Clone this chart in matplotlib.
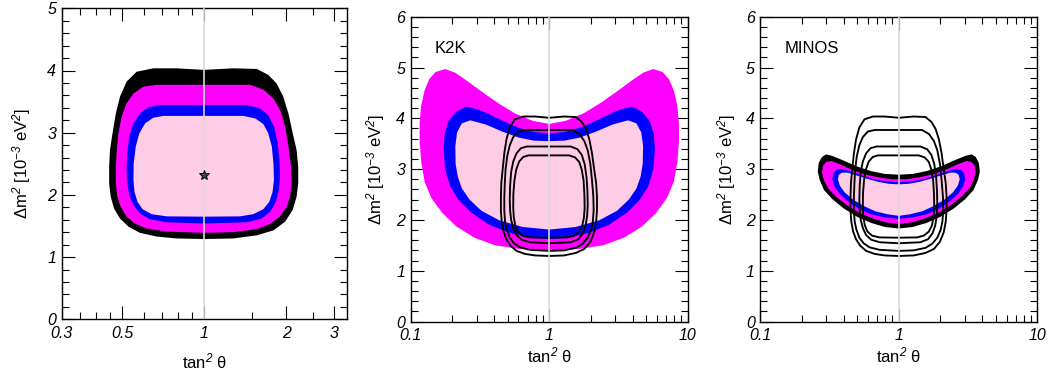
import numpy as np
import matplotlib
matplotlib.use("Agg")
import matplotlib.pyplot as plt
from matplotlib.ticker import FixedLocator, FixedFormatter, MultipleLocator, NullFormatter

plt.rcParams['font.family'] = ['Liberation Sans', 'DejaVu Sans']
plt.rcParams['font.style'] = 'italic'
plt.rcParams['mathtext.fontset'] = 'custom'
plt.rcParams['mathtext.rm'] = 'Liberation Sans'
plt.rcParams['mathtext.it'] = 'Liberation Sans:italic'
plt.rcParams['mathtext.bf'] = 'Liberation Sans:bold'

# ---------------- data: contour boundaries (tan^2 theta, dm^2 [1e-3 eV^2]) ----------------
# Atmospheric (SK) allowed regions -- outermost (black) to innermost (pink)
atm_black_x = [1.0, 1.279, 1.560, 1.718, 1.845, 1.950, 2.037, 2.113, 2.183, 2.213, 2.213, 2.183,
               2.113, 1.982, 1.795, 1.560, 1.279, 1.0, 0.792, 0.670, 0.581, 0.527, 0.491, 0.467,
               0.454, 0.448, 0.448, 0.451, 0.461, 0.474, 0.491, 0.519, 0.565, 0.650, 0.792]
atm_black_y = [4.01, 4.035, 4.025, 3.93, 3.79, 3.58, 3.31, 2.99, 2.72, 2.45, 2.19, 1.97,
               1.76, 1.57, 1.43, 1.35, 1.30, 1.29, 1.30, 1.33, 1.39, 1.49, 1.62, 1.78,
               1.97, 2.18, 2.45, 2.72, 2.99, 3.31, 3.58, 3.82, 3.98, 4.035, 4.035]
atm_magenta_x = [1.0, 1.472, 1.652, 1.795, 1.897, 1.982, 2.037, 2.084, 2.094, 2.065, 2.009, 1.897,
                 1.742, 1.560, 1.279, 1.0, 0.728, 0.615, 0.557, 0.519, 0.494, 0.480, 0.474, 0.474,
                 0.478, 0.484, 0.498, 0.519, 0.550, 0.598, 0.670]
atm_magenta_y = [3.77, 3.77, 3.69, 3.55, 3.37, 3.10, 2.78, 2.45, 2.19, 1.97, 1.81, 1.65,
                 1.53, 1.45, 1.40, 1.39, 1.41, 1.46, 1.54, 1.65, 1.81, 1.97, 2.19, 2.45,
                 2.72, 2.99, 3.26, 3.47, 3.63, 3.74, 3.77]
atm_blue_x = [1.0, 1.432, 1.603, 1.718, 1.803, 1.862, 1.888, 1.897, 1.879, 1.832, 1.754, 1.626,
              1.432, 1.0, 0.728, 0.632, 0.581, 0.550, 0.531, 0.522, 0.519, 0.522, 0.531, 0.550,
              0.581, 0.624, 0.689]
atm_blue_y = [3.445, 3.445, 3.39, 3.28, 3.10, 2.83, 2.56, 2.29, 2.08, 1.89, 1.74, 1.62,
              1.56, 1.54, 1.56, 1.61, 1.70, 1.84, 2.00, 2.19, 2.40, 2.67, 2.94, 3.15,
              3.31, 3.41, 3.445]
atm_pink_x = [1.0, 1.393, 1.538, 1.648, 1.718, 1.770, 1.795, 1.803, 1.782, 1.734, 1.648, 1.514,
              1.352, 1.0, 0.728, 0.641, 0.594, 0.569, 0.555, 0.550, 0.551, 0.561, 0.578, 0.607,
              0.650, 0.708]
atm_pink_y = [3.27, 3.27, 3.23, 3.14, 2.99, 2.78, 2.51, 2.24, 2.05, 1.89, 1.77, 1.69,
              1.655, 1.65, 1.655, 1.69, 1.77, 1.89, 2.05, 2.24, 2.51, 2.78, 2.99, 3.15,
              3.24, 3.27]
best_fit_x = [1.0]
best_fit_y = [2.32]

# K2K allowed regions
k2k_magenta_x = [0.177, 0.209, 0.245, 0.324, 0.427, 0.562, 0.759, 1.0, 1.318, 1.778, 2.344, 3.090,
                 4.074, 4.786, 5.649, 6.607, 7.328, 7.943, 8.414, 8.650, 8.650, 8.433, 7.943, 7.079,
                 5.888, 4.677, 3.467, 2.455, 1.660, 1.0, 0.602, 0.407, 0.288, 0.214, 0.170, 0.141,
                 0.126, 0.119, 0.116, 0.116, 0.119, 0.126, 0.136, 0.151]
k2k_magenta_y = [4.97, 4.90, 4.77, 4.53, 4.30, 4.10, 3.95, 3.89, 3.95, 4.10, 4.30, 4.53,
                 4.77, 4.90, 4.97, 4.91, 4.77, 4.55, 4.25, 3.90, 3.54, 3.15, 2.75, 2.43,
                 2.13, 1.87, 1.65, 1.50, 1.43, 1.40, 1.43, 1.50, 1.65, 1.87, 2.13, 2.43,
                 2.75, 3.15, 3.54, 3.90, 4.25, 4.55, 4.77, 4.91]
k2k_blue_x = [0.251, 0.302, 0.355, 0.447, 0.589, 0.776, 1.0, 1.288, 1.698, 2.239, 2.818, 3.311,
              3.981, 4.677, 5.309, 5.689, 5.794, 5.649, 5.188, 4.519, 3.673, 2.692, 1.905, 1.380,
              1.0, 0.725, 0.525, 0.371, 0.272, 0.221, 0.193, 0.177, 0.173, 0.176, 0.188, 0.214]
k2k_blue_y = [4.23, 4.18, 4.10, 3.97, 3.82, 3.73, 3.70, 3.73, 3.82, 3.97, 4.10, 4.18,
              4.23, 4.13, 3.95, 3.70, 3.40, 3.00, 2.66, 2.40, 2.15, 1.90, 1.74, 1.65,
              1.62, 1.65, 1.74, 1.90, 2.15, 2.40, 2.66, 3.00, 3.40, 3.70, 3.95, 4.13]
k2k_pink_x = [0.269, 0.347, 0.457, 0.603, 0.776, 1.0, 1.288, 1.660, 2.188, 2.884, 3.715, 4.266,
              4.624, 4.764, 4.732, 4.571, 4.266, 3.758, 3.090, 2.291, 1.549, 1.0, 0.646, 0.437,
              0.324, 0.266, 0.234, 0.219, 0.211, 0.210, 0.216, 0.234]
k2k_pink_y = [3.96, 3.88, 3.74, 3.62, 3.56, 3.55, 3.56, 3.62, 3.74, 3.88, 3.96, 3.90,
              3.72, 3.45, 3.10, 2.85, 2.62, 2.40, 2.18, 1.99, 1.86, 1.81, 1.86, 1.99,
              2.18, 2.40, 2.62, 2.85, 3.10, 3.45, 3.72, 3.90]

# MINOS allowed regions
minos_black_x = [0.260, 0.264, 0.279, 0.299, 0.331, 0.398, 0.501, 0.631, 0.794, 1.0, 1.259, 1.585,
                 1.995, 2.512, 3.020, 3.350, 3.589, 3.784, 3.846, 3.733, 3.467, 3.020, 2.512, 1.995,
                 1.585, 1.259, 1.0, 0.794, 0.631, 0.501, 0.398, 0.331, 0.288, 0.268]
minos_black_y = [2.95, 3.12, 3.24, 3.29, 3.26, 3.17, 3.05, 2.96, 2.905, 2.89, 2.905, 2.96,
                 3.05, 3.17, 3.26, 3.29, 3.24, 3.12, 2.95, 2.79, 2.59, 2.41, 2.23, 2.06,
                 1.94, 1.86, 1.83, 1.86, 1.94, 2.06, 2.23, 2.41, 2.59, 2.79]
minos_magenta_x = [0.279, 0.283, 0.299, 0.324, 0.372, 0.447, 0.562, 0.708, 0.891, 1.0, 1.122, 1.413,
                   1.778, 2.239, 2.692, 3.090, 3.350, 3.532, 3.589, 3.467, 3.236, 2.818, 2.344, 1.905,
                   1.514, 1.230, 1.0, 0.813, 0.661, 0.525, 0.427, 0.355, 0.309, 0.288]
minos_magenta_y = [2.93, 3.06, 3.14, 3.16, 3.10, 3.00, 2.90, 2.84, 2.80, 2.80, 2.80, 2.84,
                   2.90, 3.00, 3.10, 3.16, 3.14, 3.06, 2.93, 2.78, 2.62, 2.45, 2.28, 2.13,
                   2.02, 1.95, 1.92, 1.95, 2.02, 2.13, 2.28, 2.45, 2.62, 2.78]
minos_blue_x = [0.331, 0.339, 0.359, 0.389, 0.447, 0.537, 0.661, 0.813, 1.0, 1.230, 1.514, 1.862,
                2.239, 2.570, 2.786, 2.951, 3.020, 2.917, 2.692, 2.344, 1.950, 1.585, 1.259, 1.0,
                0.794, 0.631, 0.513, 0.427, 0.372, 0.343]
minos_blue_y = [2.80, 2.93, 2.99, 3.00, 2.96, 2.88, 2.80, 2.76, 2.74, 2.76, 2.80, 2.88,
                2.96, 3.00, 2.99, 2.93, 2.80, 2.66, 2.52, 2.37, 2.22, 2.11, 2.05, 2.02,
                2.05, 2.11, 2.22, 2.37, 2.52, 2.66]
minos_pink_x = [0.363, 0.370, 0.389, 0.427, 0.490, 0.589, 0.708, 0.851, 1.0, 1.175, 1.413, 1.698,
                2.042, 2.344, 2.570, 2.704, 2.754, 2.661, 2.455, 2.138, 1.778, 1.479, 1.202, 1.0,
                0.832, 0.676, 0.562, 0.468, 0.407, 0.376]
minos_pink_y = [2.80, 2.89, 2.93, 2.93, 2.88, 2.81, 2.75, 2.71, 2.70, 2.71, 2.75, 2.81,
                2.88, 2.93, 2.93, 2.89, 2.80, 2.67, 2.54, 2.40, 2.27, 2.17, 2.11, 2.08,
                2.11, 2.17, 2.27, 2.40, 2.54, 2.67]

panel_labels = ["K2K", "MINOS"]
p1_xticks = [0.3, 0.5, 1, 2, 3]
p1_xticklabels = ["0.3", "0.5", "1", "2", "3"]
p1_xminor = [0.35, 0.4, 0.45, 0.6, 0.7, 0.8, 0.9, 1.5, 2.5]
p23_xticks = [0.1, 1, 10]
p23_xticklabels = ["0.1", "1", "10"]
p23_xminor = [0.2, 0.3, 0.4, 0.5, 0.6, 0.7, 0.8, 0.9, 2, 3, 4, 5, 6, 7, 8, 9]

# ---------------- styles ----------------
C_BLACK = "#000000"
C_MAG = "#ff00ff"
C_BLUE = "#0000ff"
C_PINK = "#ffcce5"
C_GRAY = "#d9d9d9"

W, H = 1052, 378
fig = plt.figure(figsize=(W / 100, H / 100), dpi=100)
ax1 = fig.add_axes([61.7 / W, (H - 319.3) / H, 285 / W, 311 / H])
ax2 = fig.add_axes([410.7 / W, (H - 321.5) / H, 277 / W, 304.8 / H])
ax3 = fig.add_axes([760.3 / W, (H - 321.5) / H, 277 / W, 304.8 / H])


def fill_set(ax, regions):
    for i, (xs, ys, c) in enumerate(regions):
        ax.fill(xs, ys, color=c, lw=0, zorder=2 + i * 0.1)


def line_set(ax, regions):
    for xs, ys in regions:
        ax.fill(xs, ys, fill=False, edgecolor="black", lw=1.35, zorder=4)


atm_regions = [(atm_black_x, atm_black_y), (atm_magenta_x, atm_magenta_y),
               (atm_blue_x, atm_blue_y), (atm_pink_x, atm_pink_y)]

fill_set(ax1, [(atm_black_x, atm_black_y, C_BLACK), (atm_magenta_x, atm_magenta_y, C_MAG),
               (atm_blue_x, atm_blue_y, C_BLUE), (atm_pink_x, atm_pink_y, C_PINK)])
ax1.plot(best_fit_x, best_fit_y, marker="*", ms=7, mfc="#444444", mec="black", mew=0.7,
         ls="none", zorder=6)

fill_set(ax2, [(k2k_magenta_x, k2k_magenta_y, C_MAG), (k2k_blue_x, k2k_blue_y, C_BLUE),
               (k2k_pink_x, k2k_pink_y, C_PINK)])
line_set(ax2, atm_regions)

fill_set(ax3, [(minos_black_x, minos_black_y, C_BLACK), (minos_magenta_x, minos_magenta_y, C_MAG),
               (minos_blue_x, minos_blue_y, C_BLUE), (minos_pink_x, minos_pink_y, C_PINK)])
line_set(ax3, atm_regions)

ylabel = r"Δm$^{2}$ [10$^{-3}$ eV$^{2}$]"
xlabel = r"tan$^{2}$ θ"

for ax, xlim, ylim, xt, xtl, xmin in [
        (ax1, (0.3, 10 / 3), (0, 5), p1_xticks, p1_xticklabels, p1_xminor),
        (ax2, (0.1, 10), (0, 6), p23_xticks, p23_xticklabels, p23_xminor),
        (ax3, (0.1, 10), (0, 6), p23_xticks, p23_xticklabels, p23_xminor)]:
    ax.set_xscale("log")
    ax.set_xlim(*xlim)
    ax.set_ylim(*ylim)
    ax.axvline(1, color=C_GRAY, lw=1.2, zorder=5)
    ax.xaxis.set_major_locator(FixedLocator(xt))
    ax.xaxis.set_major_formatter(FixedFormatter(xtl))
    ax.xaxis.set_minor_locator(FixedLocator(xmin))
    ax.xaxis.set_minor_formatter(NullFormatter())
    ax.yaxis.set_major_locator(MultipleLocator(1))
    ax.yaxis.set_minor_locator(MultipleLocator(0.2))
    ax.tick_params(which="both", direction="in", top=True, right=True, width=0.8,
                   color="black", labelsize=11.5)
    ax.tick_params(which="major", length=9.5)
    ax.tick_params(which="minor", length=4.8)
    ax.tick_params(axis="x", which="major", pad=5)
    ax.tick_params(axis="y", which="major", pad=4)
    for s in ax.spines.values():
        s.set_linewidth(1.0)
    ax.set_xlabel(xlabel, fontsize=12, style="normal")
    ax.set_ylabel(ylabel, fontsize=12, style="normal")

ax1.xaxis.set_label_coords(0.5, -0.105)
ax2.xaxis.set_label_coords(0.5, -0.079)
ax3.xaxis.set_label_coords(0.5, -0.079)
ax1.yaxis.set_label_coords(-0.100, 0.5)
ax2.yaxis.set_label_coords(-0.085, 0.5)
ax3.yaxis.set_label_coords(-0.081, 0.5)

for ax, lab in zip([ax2, ax3], panel_labels):
    ax.text(0.088, 0.880, lab, transform=ax.transAxes, fontsize=12, style="normal",
            ha="left", va="baseline")

fig.savefig("out.png", dpi=100)
